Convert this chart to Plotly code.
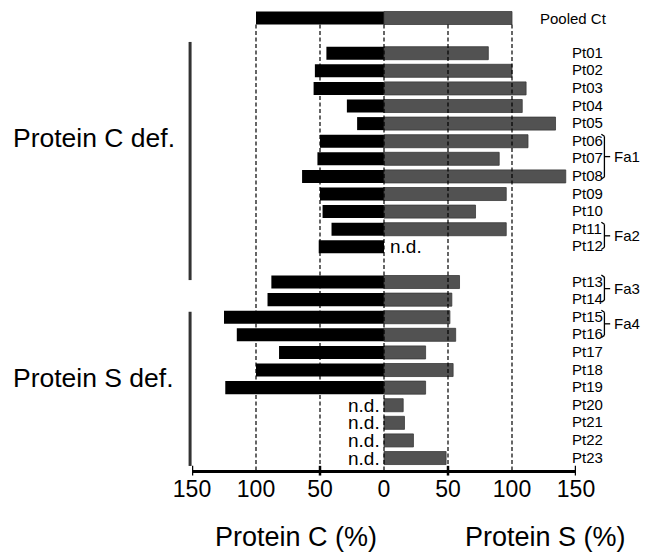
import plotly.graph_objects as go

# ---- data ----
row_order = ["Pooled Ct", "_gap1",
             "Pt01", "Pt02", "Pt03", "Pt04", "Pt05", "Pt06", "Pt07", "Pt08",
             "Pt09", "Pt10", "Pt11", "Pt12", "_gap2",
             "Pt13", "Pt14", "Pt15", "Pt16", "Pt17", "Pt18", "Pt19",
             "Pt20", "Pt21", "Pt22", "Pt23"]

samples = ["Pooled Ct",
           "Pt01", "Pt02", "Pt03", "Pt04", "Pt05", "Pt06", "Pt07", "Pt08",
           "Pt09", "Pt10", "Pt11", "Pt12",
           "Pt13", "Pt14", "Pt15", "Pt16", "Pt17", "Pt18", "Pt19",
           "Pt20", "Pt21", "Pt22", "Pt23"]

# None = n.d.
protein_c = [100,
             45, 54, 55, 29, 21, 50, 52, 64, 50, 48, 41, 51,
             88, 91, 125, 115, 82, 100, 124,
             None, None, None, None]

protein_s = [100,
             81.5, 100, 111, 108, 134, 112.5, 90, 142, 95.5, 71.5, 95.5, None,
             59, 53, 51.5, 56, 32.5, 54, 32.5,
             15, 16, 23, 48.5]

families = [("Fa1", "Pt06", "Pt08"), ("Fa2", "Pt11", "Pt12"),
            ("Fa3", "Pt13", "Pt14"), ("Fa4", "Pt15", "Pt16")]

groups = [("Protein C def.", "Pt01", "Pt12"), ("Protein S def.", "Pt13", "Pt23")]

tick_values = [-150, -100, -50, 0, 50, 100, 150]
tick_labels = ["150", "100", "50", "0", "50", "100", "150"]
tick_marks = [-150, -50, 50, 150]
ref_lines = [-100, -50, 0, 50, 100]

FONT = "Liberation Sans, Arial, sans-serif"
pos = {name: i for i, name in enumerate(row_order)}
ys = [pos[s] for s in samples]

fig = go.Figure()
fig.add_trace(go.Bar(
    y=ys, x=[(-v if v is not None else None) for v in protein_c],
    orientation="h", width=0.74,
    marker=dict(color="#000000", line=dict(width=0)),
    name="Protein C", showlegend=False))
fig.add_trace(go.Bar(
    y=ys, x=protein_s,
    orientation="h", width=0.74,
    marker=dict(color="#525252", line=dict(color="#3a3a3a", width=0.8)),
    name="Protein S", showlegend=False))

Y_BOTTOM = 25.68
Y_TOP = -0.568

shapes = []
# dashed reference lines
for xv in ref_lines:
    shapes.append(dict(type="line", xref="x", yref="y", x0=xv, x1=xv,
                       y0=0.37, y1=Y_BOTTOM, layer="above",
                       line=dict(color="black", width=1.2, dash="4px,2.5px")))
# tick marks on axis
for xv in tick_marks:
    shapes.append(dict(type="line", xref="x", yref="paper", x0=xv, x1=xv,
                       y0=-0.012, y1=0.009, layer="above",
                       line=dict(color="black", width=2.5)))
# group bracket lines
group_spans = [(1.36, 14.89), (16.69, 25.45)]
for (y0, y1) in group_spans:
    shapes.append(dict(type="line", xref="paper", yref="y", x0=-0.005, x1=-0.005,
                       y0=y0, y1=y1, line=dict(color="#333333", width=3)))

annotations = []
# sample labels
for s in samples:
    if s == "Pooled Ct":
        annotations.append(dict(x=120, y=pos[s], xref="x", yref="y", text=s,
                                showarrow=False, xanchor="left", yanchor="middle",
                                font=dict(family=FONT, size=15, color="black")))
    else:
        annotations.append(dict(x=145, y=pos[s], xref="x", yref="y", text=s,
                                showarrow=False, xanchor="left", yanchor="middle",
                                yshift=1,
                                font=dict(family=FONT, size=15, color="black")))
# n.d. labels
for s, c, sv in zip(samples, protein_c, protein_s):
    if c is None:
        annotations.append(dict(x=-1.5, y=pos[s], xref="x", yref="y", text="n.d.",
                                showarrow=False, xanchor="right", yanchor="middle",
                                font=dict(family=FONT, size=19, color="black")))
    if sv is None:
        annotations.append(dict(x=3, y=pos[s], xref="x", yref="y", text="n.d.",
                                showarrow=False, xanchor="left", yanchor="middle",
                                font=dict(family=FONT, size=19, color="black")))
# family braces
bx0, bx1, bx2 = 1.066, 1.074, 1.089
for name, a, b in families:
    top = pos[a] - 0.4
    bot = pos[b] + 0.15
    mid = (top + bot) / 2
    for seg in [(bx0, top, bx1, top + 0.12), (bx1, top + 0.12, bx1, bot - 0.12),
                (bx1, bot - 0.12, bx0, bot), (bx1, mid, bx2, mid)]:
        shapes.append(dict(type="line", xref="paper", yref="y",
                           x0=seg[0], y0=seg[1], x1=seg[2], y1=seg[3],
                           line=dict(color="black", width=1.3)))
    annotations.append(dict(x=1.094, y=mid, xref="paper", yref="y", text=name,
                            showarrow=False, xanchor="left", yanchor="middle",
                            font=dict(family=FONT, size=15, color="black")))
# group labels
group_label_rows = [6.8, 20.45]
for (name, a, b), yr in zip(groups, group_label_rows):
    annotations.append(dict(x=-0.2565, y=yr, xref="paper", yref="y", text=name,
                            showarrow=False, xanchor="center", yanchor="middle",
                            font=dict(family=FONT, size=26.5, color="black")))
# axis titles
annotations.append(dict(x=-69, y=-0.145, xref="x", yref="paper", text="Protein C (%)",
                        showarrow=False, xanchor="center", yanchor="middle",
                        font=dict(family=FONT, size=27, color="black")))
annotations.append(dict(x=126, y=-0.145, xref="x", yref="paper", text="Protein S (%)",
                        showarrow=False, xanchor="center", yanchor="middle",
                        font=dict(family=FONT, size=27, color="black")))

fig.update_layout(
    width=641, height=545,
    margin=dict(l=184, r=73, t=0, b=83),
    paper_bgcolor="white", plot_bgcolor="white",
    barmode="overlay",
    shapes=shapes, annotations=annotations,
    font=dict(family=FONT, color="black"),
    xaxis=dict(range=[-150, 150], tickvals=tick_values, ticktext=tick_labels,
               showgrid=False, zeroline=False, showline=True, linecolor="black",
               linewidth=3, ticks="", ticklabelstandoff=-4,
               tickfont=dict(family=FONT, size=23, color="black"),
               fixedrange=True),
    yaxis=dict(range=[Y_BOTTOM, Y_TOP], showgrid=False, zeroline=False, showline=False,
               showticklabels=False, ticks="", fixedrange=True),
)

fig.write_html("out.html")
